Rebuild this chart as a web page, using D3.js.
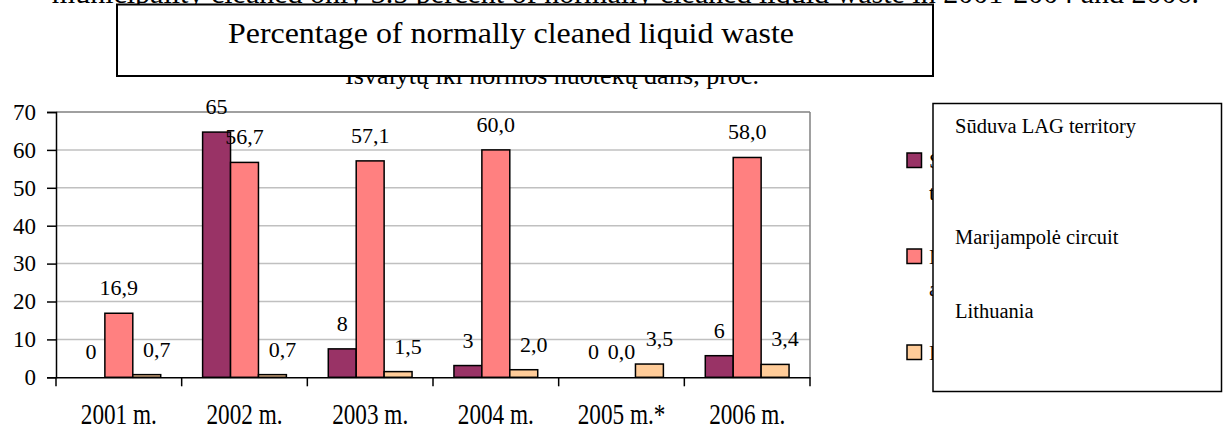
<!DOCTYPE html>
<html>
<head>
<meta charset="utf-8">
<script src="https://cdn.jsdelivr.net/npm/d3@7"></script>
<style>
  body { margin: 0; background: #fff; }
  svg text { font-family: "Liberation Serif", "Times New Roman", serif; }
</style>
</head>
<body>
<svg></svg>
<script>
// chart data
let years = ['2001 m.', '2002 m.', '2003 m.', '2004 m.', '2005 m.*', '2006 m.'];
let seriesNames = ['Sūduva LAG territory', 'Marijampolė circuit', 'Lithuania'];
// only the first letters of the original labels peek out from behind the box
let hiddenNames = [['S', 't'], ['M', 'a'], ['L']];
let suduva = [0, 64.7, 7.5, 3.1, 0, 5.7];
let marijampole = [16.9, 56.7, 57.1, 60.0, 0.0, 58.0];
let lithuania = [0.7, 0.7, 1.5, 2.0, 3.5, 3.4];
let yTicks = [0, 10, 20, 30, 40, 50, 60, 70];
let colors = ['#993366', '#ff8080', '#ffcc99'];

let width = 1227;
let height = 430;

let svg = d3.select('svg')
    .attr('width', width)
    .attr('height', height);

svg.append('rect').attr('width', width).attr('height', height).attr('fill', '#fff');

// page text behind the boxes (partly covered, like the scan)
svg.append('text')
    .attr('x', 1199).attr('y', 3)
    .attr('text-anchor', 'end')
    .attr('font-size', 30)
    .text('municipality cleaned only 3.5 percent of normally cleaned liquid waste in 2001-2004 and 2006.');

svg.append('text')
    .attr('x', 552).attr('y', 84)
    .attr('text-anchor', 'middle')
    .attr('font-size', 26)
    .text('Išvalytų iki normos nuotekų dalis, proc.');

// title box
svg.append('rect')
    .attr('x', 117).attr('y', 4.5)
    .attr('width', 816).attr('height', 71.5)
    .attr('fill', '#fff').attr('stroke', '#000').attr('stroke-width', 2);

svg.append('text')
    .attr('x', 511).attr('y', 43)
    .attr('text-anchor', 'middle')
    .attr('font-size', 30)
    .attr('textLength', 566)
    .attr('lengthAdjust', 'spacingAndGlyphs')
    .text('Percentage of normally cleaned liquid waste');

// scales
let xScale = d3.scaleBand()
    .domain(years)
    .range([56, 810])
    .paddingInner(0)
    .paddingOuter(0);

let xSub = d3.scaleBand()
    .domain([0, 1, 2])
    .range([0, xScale.bandwidth()])
    .paddingInner(0)
    .paddingOuter(0.75);

let yScale = d3.scaleLinear()
    .domain([0, 70])
    .range([377.3, 112]);

// grid
let grid = svg.append('g');
grid.selectAll('line')
    .data(yTicks.filter(d => d > 0))
    .enter()
    .append('line')
    .attr('x1', 56).attr('x2', 810)
    .attr('y1', d => yScale(d)).attr('y2', d => yScale(d))
    .attr('stroke', d => d === 70 ? '#808080' : '#c0c0c0')
    .attr('stroke-width', 1.5);

svg.append('line')
    .attr('x1', 810).attr('x2', 810)
    .attr('y1', yScale(70)).attr('y2', yScale(0))
    .attr('stroke', '#808080').attr('stroke-width', 1.5);

// bars
let allSeries = [suduva, marijampole, lithuania];
let rows = [];
allSeries.forEach(function(vals, s) {
    vals.forEach(function(v, i) {
        rows.push({ s: s, year: years[i], value: v });
    });
});

svg.append('g')
    .selectAll('rect')
    .data(rows)
    .enter()
    .append('rect')
    .attr('x', d => xScale(d.year) + xSub(d.s))
    .attr('y', d => yScale(d.value))
    .attr('width', xSub.bandwidth())
    .attr('height', d => yScale(0) - yScale(d.value))
    .attr('fill', d => colors[d.s])
    .attr('stroke', '#000')
    .attr('stroke-width', 1.5);

// value labels
let fmt0 = d3.format('.0f');
let fmt1 = v => d3.format('.1f')(v).replace('.', ',');
let labelDx = [0, 0, 10];

svg.append('g')
    .selectAll('text')
    .data(rows)
    .enter()
    .append('text')
    .attr('x', d => xScale(d.year) + xSub(d.s) + xSub.bandwidth() / 2 + labelDx[d.s])
    .attr('y', d => yScale(d.value) - 18)
    .attr('text-anchor', 'middle')
    .attr('font-size', 22)
    .text(d => d.s === 0 ? fmt0(d.value) : fmt1(d.value));

// y axis
let yAxis = d3.axisLeft(yScale)
    .tickValues(yTicks)
    .tickSize(9)
    .tickPadding(11)
    .tickFormat(d3.format('d'));

let yG = svg.append('g')
    .attr('transform', 'translate(56,0)')
    .call(yAxis);
yG.select('.domain').attr('stroke', '#000').attr('stroke-width', 1.5);
yG.selectAll('.tick line').attr('stroke', '#000').attr('stroke-width', 1.5);
yG.selectAll('.tick text')
    .attr('font-size', 23)
    .attr('fill', '#000');

// x axis
let xAxis = d3.axisBottom(xScale).tickSize(0).tickPadding(0);
let xG = svg.append('g')
    .attr('transform', `translate(0,${yScale(0)})`)
    .call(xAxis);
xG.select('.domain').attr('stroke', '#000').attr('stroke-width', 1.5);
xG.selectAll('.tick text')
    .attr('font-size', 29)
    .attr('fill', '#000')
    .attr('dy', null)
    .attr('y', 47)
    .attr('transform', 'scale(0.8,1)');

// tick marks between the categories
let bounds = years.map(d => xScale(d)).concat([xScale.range()[1]]);
xG.selectAll('.bound')
    .data(bounds)
    .enter()
    .append('line')
    .attr('class', 'bound')
    .attr('x1', d => d).attr('x2', d => d)
    .attr('y1', 0).attr('y2', 9)
    .attr('stroke', '#000').attr('stroke-width', 1.5);

// legend: swatches with original labels, covered by the English box
let legendY = [153, 249, 345];
let legend = svg.append('g');
legend.selectAll('rect')
    .data(seriesNames)
    .enter()
    .append('rect')
    .attr('x', 907).attr('y', (d, i) => legendY[i])
    .attr('width', 14.5).attr('height', 14.5)
    .attr('fill', (d, i) => colors[i])
    .attr('stroke', '#000').attr('stroke-width', 1.5);

hiddenNames.forEach(function(lines, i) {
    lines.forEach(function(t, j) {
        legend.append('text')
            .attr('x', 929)
            .attr('y', legendY[i] + 15 + j * 32)
            .attr('font-size', 22)
            .text(t);
    });
});

svg.append('rect')
    .attr('x', 933).attr('y', 103.5)
    .attr('width', 288.5).attr('height', 288)
    .attr('fill', '#fff').attr('stroke', '#000').attr('stroke-width', 1.5);

let legendTextY = [132.7, 244, 317.7];
svg.append('g')
    .selectAll('text')
    .data(seriesNames)
    .enter()
    .append('text')
    .attr('x', 955)
    .attr('y', (d, i) => legendTextY[i])
    .attr('font-size', 20.5)
    .text(d => d);
</script>
</body>
</html>
